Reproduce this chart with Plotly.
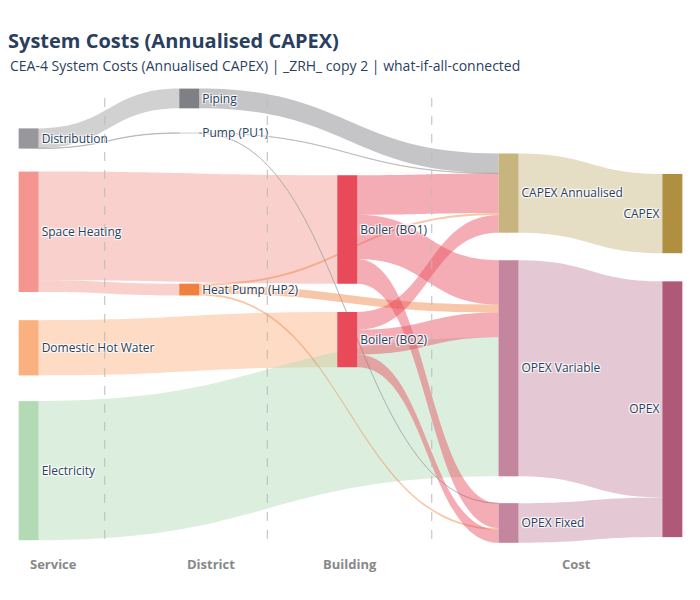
import plotly.graph_objects as go

# nodes
labels = ["Distribution", "Space Heating", "Domestic Hot Water", "Electricity",
          "Piping", "Pump (PU1)", "Heat Pump (HP2)",
          "Boiler (BO1)", "Boiler (BO2)",
          "CAPEX Annualised", "OPEX Variable", "OPEX Fixed",
          "CAPEX", "OPEX"]
node_x = [0.001, 0.001, 0.001, 0.001, 0.25, 0.25, 0.25, 0.495, 0.495, 0.745, 0.745, 0.745, 0.999, 0.999]
node_y = [0.1, 0.305, 0.56, 0.83, 0.012, 0.088, 0.432, 0.3, 0.542, 0.22, 0.605, 0.945, 0.265, 0.695]
node_colors = ["#98989c", "#f4968f", "#fbb07f", "#b2dbb5",
               "#7f7f86", "#a0a0a0", "#f08040",
               "#e84a5a", "#e84a5a",
               "#c8b47e", "#c4869e", "#c4869e",
               "#b09040", "#b05878"]

# links
src = [0, 0, 1, 1, 2, 3, 4, 5, 5, 6, 6, 6, 7, 7, 7, 8, 8, 8, 9, 10, 11]
tgt = [4, 5, 7, 6, 8, 10, 9, 9, 11, 9, 10, 11, 9, 10, 11, 9, 10, 11, 12, 13, 13]
val = [20, 0.5, 110, 12, 56, 141, 20, 0.3, 0.2, 2, 8, 2, 40, 45, 25, 18, 25, 13, 80.3, 219, 40.2]


def rgba(hexc, a):
    h = hexc.lstrip("#")
    return f"rgba({int(h[0:2],16)},{int(h[2:4],16)},{int(h[4:6],16)},{a})"


link_colors = [rgba(node_colors[s], 0.45) for s in src]

fig = go.Figure(go.Sankey(
    arrangement="fixed",
    node=dict(label=labels, x=node_x, y=node_y, color=node_colors,
              pad=40, thickness=20, line=dict(width=0)),
    link=dict(source=src, target=tgt, value=val, color=link_colors),
    textfont=dict(size=12, color="#2a3f5f"),
))

columns = ["Service", "District", "Building", "Cost"]
col_x = [0.039, 0.284, 0.499, 0.85]
for name, cx in zip(columns, col_x):
    fig.add_annotation(text=f"<b>{name}</b>", x=cx, xanchor="center", y=-0.06, xref="paper", yref="paper",
                       showarrow=False, font=dict(size=13, color="#888"))
for lx in [0.119, 0.371, 0.626]:
    fig.add_shape(type="line", x0=lx, x1=lx, y0=0.02, y1=1, xref="paper", yref="paper",
                  line=dict(color="#bbb", width=1, dash="dash"))

fig.add_annotation(text="CEA-4 System Costs (Annualised CAPEX) | _ZRH_ copy 2 | what-if-all-connected",
                   x=0, xref="paper", xanchor="left", xshift=-20, y=1.06, yref="paper",
                   yanchor="middle", showarrow=False, font=dict(size=14, color="#2a3f5f"))

fig.update_layout(
    width=700, height=600,
    title=dict(text="<b>System Costs (Annualised CAPEX)</b>", x=0.0, xanchor="left",
               y=0.945, yanchor="middle", font=dict(size=20, color="#2a3f5f")),
    margin=dict(l=20, r=35, t=85, b=60),
    paper_bgcolor="white",
)
fig.write_html("out.html")
